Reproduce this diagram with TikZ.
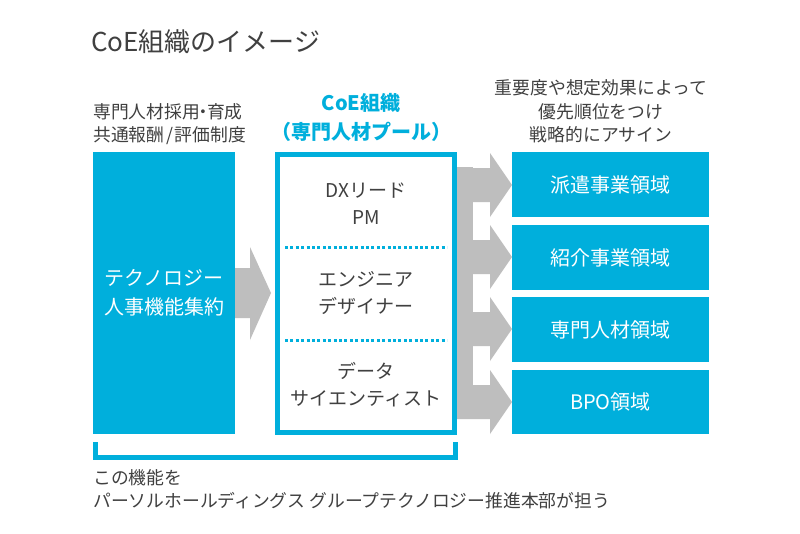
\documentclass[tikz,border=0pt]{standalone}
\usepackage{fontspec}
\setmainfont{Noto Sans CJK JP}
\definecolor{cobalt}{RGB}{0,175,220}
\definecolor{arrowgray}{RGB}{190,190,190}
\definecolor{textgray}{RGB}{64,64,64}
\tikzset{
  txt/.style={text=textgray, inner sep=0pt, align=center},
  small/.style={font=\fontsize{17.8}{23.5}\selectfont},
  mid/.style={font=\fontsize{19}{27}\selectfont},
  bluebox/.style={fill=cobalt, draw=none, inner sep=0pt},
  whitetxt/.style={text=white, inner sep=0pt, align=center},
  garrow/.style={fill=arrowgray, draw=none},
}
\begin{document}
\begin{tikzpicture}[x=1pt,y=-1pt]
\useasboundingbox (0,0) rectangle (800,533);
\fill[white] (0,0) rectangle (800,533);

% title
\node[txt, anchor=west, font=\fontsize{26}{30}\selectfont] (title) at (91,42) {CoE組織のイメージ};

% left column
\node[txt, small, align=left, anchor=west] (lefthead) at (93,124) {専門人材採用\kern-0.3em・\kern-0.3em育成\\共通報酬\kern0.1em/\kern0.1em評価制度};
\node[bluebox, minimum width=142pt, minimum height=282pt, anchor=north west] (tech) at (93,152) {};
\node[whitetxt, font=\fontsize{20}{29}\selectfont] (techtxt) at (tech.center) {テクノロジー\\人事機能集約};

% left arrow
\fill[garrow] (235,268) -- (250,268) -- (250,247) -- (271,293) -- (250,340) -- (250,318) -- (235,318) -- cycle;

% CoE box
\node[txt, text=cobalt, font=\bfseries\fontsize{20}{29}\selectfont] (coehead) at (361,117.5) {CoE組織\\（専門人材プール）};
\node[draw=cobalt, line width=5pt, minimum width=177pt, minimum height=278pt, inner sep=0pt] (coe) at (366,293.5) {};
\draw[cobalt, line width=3pt, dash pattern=on 3pt off 2.4pt] (285,247) -- (447,247);
\draw[cobalt, line width=3pt, dash pattern=on 3pt off 2.4pt] (285,340) -- (447,340);
\node[txt, mid] (dx) at (366,203.5) {DXリード\\PM};
\node[txt, mid] (eng) at (366,293.5) {エンジニア\\デザイナー};
\node[txt, mid] (data) at (366,385) {データ\\サイエンティスト};

% right heading
\node[txt, small] (righthead) at (601,111.5) {重要度や想定効果によって\\優先順位をつけ\\戦略的にアサイン};

% right boxes
\node[bluebox, minimum width=197pt, minimum height=65pt] (r1) at (610.5,184.5) {};
\node[bluebox, minimum width=197pt, minimum height=65pt] (r2) at (610.5,257.5) {};
\node[bluebox, minimum width=197pt, minimum height=65pt] (r3) at (610.5,329.5) {};
\node[bluebox, minimum width=197pt, minimum height=64pt] (r4) at (610.5,402) {};
\node[whitetxt, font=\fontsize{20}{24}\selectfont] (r1t) at (r1.center) {派遣事業領域};
\node[whitetxt, font=\fontsize{20}{24}\selectfont] (r2t) at (r2.center) {紹介事業領域};
\node[whitetxt, font=\fontsize{20}{24}\selectfont] (r3t) at (r3.center) {専門人材領域};
\node[whitetxt, font=\fontsize{20}{24}\selectfont] (r4t) at (r4.center) {BPO領域};

% right arrows
\fill[garrow] (457,167) rectangle (473,418);
\foreach \c in {185,257,329,402}{
  \fill[garrow] (457,\c-17) -- (490,\c-17) -- (490,\c-32) -- (512,\c) -- (490,\c+32) -- (490,\c+17) -- (457,\c+17) -- cycle;
}

% bracket
\draw[cobalt, line width=5pt] (95.5,442) -- (95.5,457.5) -- (455.5,457.5) -- (455.5,442);

% bottom text
\node[txt, small, align=left, anchor=west] (foot) at (93,489) {この機能を\\パーソルホールディングス グループテクノロジー推進本部が担う};
\end{tikzpicture}
\end{document}
